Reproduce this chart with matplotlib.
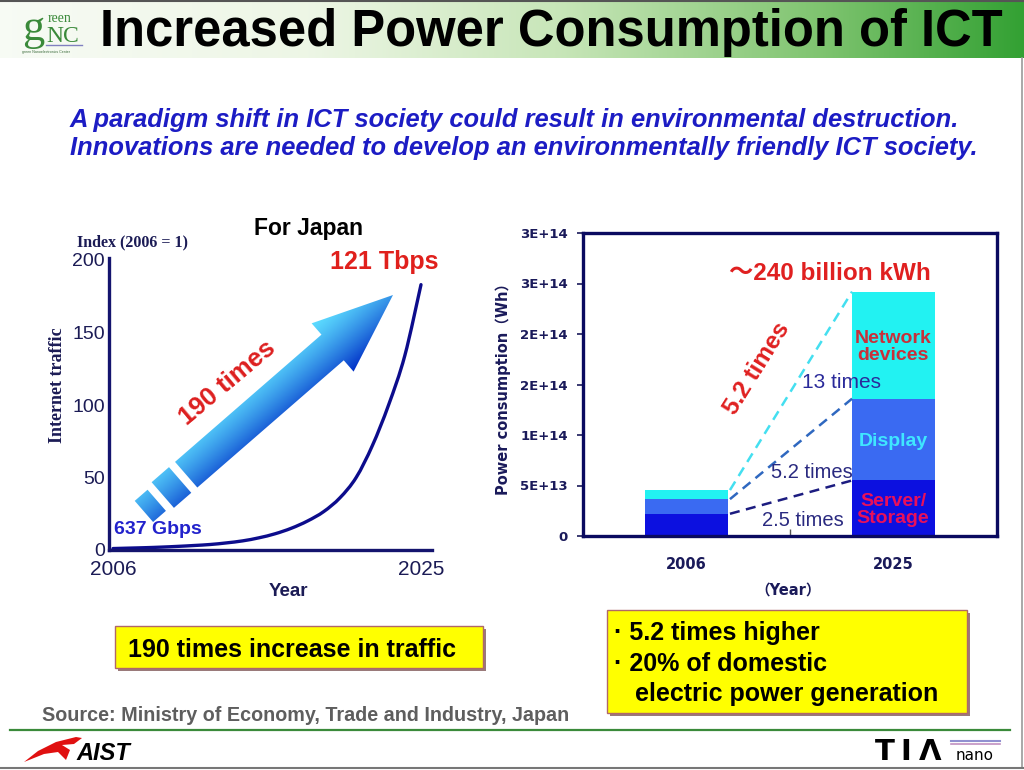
import numpy as np
import matplotlib
matplotlib.use("Agg")
import matplotlib.pyplot as plt
from matplotlib.patches import Rectangle, PathPatch, Polygon
from matplotlib.path import Path

# ---------------- data ----------------
years = [2006, 2007, 2008, 2009, 2010, 2011, 2012, 2013, 2014, 2015,
         2016, 2017, 2018, 2019, 2020, 2021, 2022, 2023, 2024, 2025]
traffic_index = [1, 1.3, 1.6, 2.0, 2.5, 3.1, 3.8, 4.9, 6.3, 8.4,
                 11.2, 15, 20, 26.5, 36, 50, 72, 100, 134, 183]
left_yticks = [0, 50, 100, 150, 200]
left_xticks = [2006, 2025]

bar_years = ["2006", "2025"]
server_storage = np.array([2.2e13, 5.5e13])
display = np.array([1.45e13, 8.1e13])
network_devices = np.array([0.9e13, 10.6e13])
right_yticks = [0, 5e13, 1e14, 1.5e14, 2e14, 2.5e14, 3e14]
right_yticklabels = ["0", "5E+13", "1E+14", "2E+14", "2E+14", "3E+14", "3E+14"]
growth_labels = ["2.5 times", "5.2 times", "13 times"]

W, H = 1024, 770
SANS = "Liberation Sans"
SERIF = "Liberation Serif"
CJK = ["DejaVu Sans", "Noto Sans CJK JP"]
NAVY = "#1b1b55"

fig = plt.figure(figsize=(W / 100, H / 100), dpi=100)
fig.patch.set_facecolor("white")

# ---------------- background ----------------
bg = fig.add_axes([0, 0, 1, 1], zorder=0)
bg.axis("off")
xs = np.linspace(0, 1, 512)
sx = [0, 0.3, 0.55, 0.8, 1.0]
sc = np.array([[0.97, 0.985, 0.96], [0.93, 0.965, 0.90], [0.78, 0.90, 0.72],
               [0.50, 0.77, 0.44], [0.20, 0.63, 0.20]])
grad = np.stack([np.interp(xs, sx, sc[:, k]) for k in range(3)], axis=-1)[None, :, :]
bg.imshow(grad, extent=(0, W, 58, 0), aspect="auto", interpolation="bilinear")
bg.set_xlim(0, W)
bg.set_ylim(H, 0)
bg.plot([0, W], [1, 1], color="#555555", lw=1.5)
bg.plot([1022, 1022], [58, 768], color="#999999", lw=1.2)
bg.plot([0, W], [768, 768], color="#777777", lw=1.5)
bg.plot([10, 1010], [730, 730], color="#3a8a3a", lw=1.6)

# ---------------- left chart ----------------
axL = fig.add_axes([109 / W, 1 - 550 / H, (432 - 109) / W, (550 - 258) / H], zorder=2)
axL.patch.set_alpha(0)
# smooth curve through the data points (Catmull-Rom as cubic Bezier segments)
pts = np.column_stack([np.asarray(years, float), np.asarray(traffic_index, float)])
verts = [tuple(pts[0])]
codes = [Path.MOVETO]
for i in range(len(pts) - 1):
    p0 = pts[i - 1] if i > 0 else pts[i]
    p1, p2 = pts[i], pts[i + 1]
    p3 = pts[i + 2] if i + 2 < len(pts) else pts[i + 1]
    verts += [tuple(p1 + (p2 - p0) / 6), tuple(p2 - (p3 - p1) / 6), tuple(p2)]
    codes += [Path.CURVE4] * 3
axL.add_patch(PathPatch(Path(verts, codes), facecolor="none", edgecolor="#0c0c8c", lw=2.4,
                        capstyle="round", joinstyle="round"))
axL.set_xlim(2006 - 4 / 16.2, 2025 + 11 / 16.2)
axL.set_ylim(0, 200 * 292 / 290)
axL.set_yticks(left_yticks)
axL.set_xticks(left_xticks)
axL.tick_params(axis="both", length=0, colors=NAVY)
axL.tick_params(axis="y", pad=3)
axL.tick_params(axis="x", pad=7)
for lab in axL.get_yticklabels():
    lab.set_fontfamily(SANS); lab.set_fontsize(14)
for lab in axL.get_xticklabels():
    lab.set_fontfamily(SANS); lab.set_fontsize(15)
for s in ["top", "right"]:
    axL.spines[s].set_visible(False)
for s in ["left", "bottom"]:
    axL.spines[s].set_color("#14146e"); axL.spines[s].set_linewidth(2.4)

# ---------------- right chart ----------------
axR = fig.add_axes([583 / W, 1 - 536 / H, (997 - 583) / W, (536 - 233) / H], zorder=2)
xpos = np.arange(len(bar_years))
bw = 0.4
c_server, c_display, c_network = "#0c10e0", "#3a6af2", "#22f2f2"
axR.bar(xpos, server_storage, bw, color=c_server, zorder=2)
axR.bar(xpos, display, bw, bottom=server_storage, color=c_display, zorder=2)
axR.bar(xpos, network_devices, bw, bottom=server_storage + display, color=c_network, zorder=2)
tops = [server_storage, server_storage + display, server_storage + display + network_devices]
line_cols = ["#1c1c80", "#2f68c0", "#44dff0"]
for top, lc in zip(tops, line_cols):
    axR.plot([xpos[0] + bw / 2 + 0.01, xpos[1] - bw / 2], [top[0], top[1]],
             ls=(0, (4, 2.6)), color=lc, lw=1.8, zorder=3)
axR.set_xlim(-0.5, 1.5)
axR.set_ylim(0, 3e14)
axR.set_yticks(right_yticks)
axR.set_yticklabels(right_yticklabels)
axR.set_xticks(xpos)
axR.set_xticklabels(bar_years)
axR.set_xticks([0.5], minor=True)
axR.tick_params(axis="x", which="major", length=0, pad=15, colors="#1a1a5a")
axR.tick_params(axis="x", which="minor", direction="in", length=5, width=1, color="#555555")
axR.tick_params(axis="y", length=4, width=1.2, color="#1a1a5a", labelcolor="#1a1a5a", pad=7)
for lab in axR.get_yticklabels():
    lab.set_fontfamily("DejaVu Sans"); lab.set_fontweight("bold"); lab.set_fontsize(9.5)
for lab in axR.get_xticklabels():
    lab.set_fontfamily("DejaVu Sans"); lab.set_fontweight("bold"); lab.set_fontsize(10.5)
for s in axR.spines.values():
    s.set_color("#0a0a60"); s.set_linewidth(2.4)

# ---------------- overlay (pixel coords) ----------------
ov = fig.add_axes([0, 0, 1, 1], zorder=5)
ov.patch.set_alpha(0)
ov.axis("off")

# gradient arrow
T = np.array([393.0, 295.0])
u = np.array([0.755, -0.656]); u /= np.linalg.norm(u)
n = np.array([-u[1], u[0]])
if n[1] < 0:
    n = -n
def P(s, t):
    p = T - s * u + t * n
    return (p[0], p[1])
head = [P(0, 0), P(80, -32), P(80, -17), P(274, -17), P(274, 17), P(80, 17), P(80, 32), P(0, 0)]
piece2 = [P(282, -17), P(305, -17), P(305, 17), P(282, 17), P(282, -17)]
piece1 = [P(313, -14), P(330, -14), P(330, 14), P(313, 14), P(313, -14)]
paths = [Path(v, closed=True) for v in (head, piece2, piece1)]
apath = Path.make_compound_path(*paths)
clip = PathPatch(apath, transform=ov.transData, facecolor="none", edgecolor="none")
ov.add_patch(clip)
x0, x1, y0, y1 = 120, 400, 285, 540
gx, gy = np.meshgrid(np.arange(x0, x1) + 0.5, np.arange(y0, y1) + 0.5)
tt = (gx - T[0]) * n[0] + (gy - T[1]) * n[1]
v = np.clip((tt + 32) / 64, 0, 1) ** 1.3
c0 = np.array([0.36, 0.86, 1.0]); c1 = np.array([0.0, 0.18, 0.78])
img = c0[None, None, :] + (c1 - c0)[None, None, :] * v[..., None]
im = ov.imshow(img, extent=(x0, x1, y1, y0), aspect="auto", interpolation="bilinear", zorder=3)
im.set_clip_path(clip)
ov.set_xlim(0, W)
ov.set_ylim(H, 0)

# header
ov.text(100, 46, "Increased Power Consumption of ICT", fontfamily=SANS, fontweight="bold",
        fontsize=36.5, color="black", va="baseline", ha="left")
ov.text(33, 40, "g", fontfamily=SERIF, fontsize=32, color="#3a8a3a", ha="center", va="baseline")
ov.text(48, 22, "reen", fontfamily=SERIF, fontsize=10, color="#3a8a3a", ha="left", va="baseline")
ov.text(46, 42, "NC", fontfamily=SERIF, fontsize=17, color="#3a8a3a", ha="left", va="baseline")
ov.plot([46, 82], [45, 45], color="#8080c0", lw=1)
ov.text(22, 52, "green Nanoelectronics Center", fontfamily=SANS, fontsize=2.6, color="#3a6a3a",
        ha="left", va="center")

# subtitle
sub_c = "#1c1cc4"
ov.text(70, 127, "A paradigm shift in ICT society could result in environmental destruction.",
        fontfamily=SANS, fontweight="bold", style="italic", fontsize=18.4, color=sub_c, va="baseline")
ov.text(70, 155, "Innovations are needed to develop an environmentally friendly ICT society.",
        fontfamily=SANS, fontweight="bold", style="italic", fontsize=18.4, color=sub_c, va="baseline")

# left chart annotations
ov.text(308, 228, "For Japan", fontfamily=SANS, fontweight="bold", fontsize=16.5, color="black",
        ha="center", va="center")
ov.text(77, 242, "Index (2006 = 1)", fontfamily=SERIF, fontweight="bold", fontsize=11.5, color=NAVY,
        ha="left", va="center")
ov.text(58, 385, "Internet traffic", fontfamily=SERIF, fontweight="bold", fontsize=13, color=NAVY,
        ha="center", va="center", rotation=90)
ov.text(384, 262, "121 Tbps", fontfamily=SANS, fontweight="bold", fontsize=18, color="#e0201c",
        ha="center", va="center")
ov.text(227, 383, "190 times", fontfamily=SANS, fontweight="bold", fontsize=18.5, color="#dd1f1f",
        ha="center", va="center", rotation=40, rotation_mode="anchor")
ov.text(158, 530, "637 Gbps", fontfamily=SANS, fontweight="bold", fontsize=14, color="#2222cc",
        ha="center", va="center")
ov.text(288, 591, "Year", fontfamily=SANS, fontweight="bold", fontsize=13.5, color=NAVY,
        ha="center", va="center")

# right chart annotations
ov.text(503, 385, "Power consumption（Wh）", fontfamily=CJK, fontweight="bold", fontsize=10.5,
        color="#1a1a5a", ha="center", va="center", rotation=90)
ov.text(788, 590, "（Year）", fontfamily=CJK, fontweight="bold", fontsize=10.5,
        color="#1a1a5a", ha="center", va="center")
ov.text(830, 273, "～240 billion kWh", fontfamily=[SANS, "Noto Sans CJK JP"], fontweight="bold",
        fontsize=17.5, color="#e02020", ha="center", va="center")
ov.text(757, 368, "5.2 times", fontfamily=SANS, fontweight="bold", fontsize=17.5, color="#e02020",
        ha="center", va="center", rotation=58, rotation_mode="anchor")
ov.text(842, 383, growth_labels[2], fontfamily=SANS, fontsize=15, color="#2a2a9a", ha="center", va="center")
ov.text(812, 472, growth_labels[1], fontfamily=SANS, fontsize=14.5, color="#2a2a80", ha="center", va="center")
ov.text(803, 521, growth_labels[0], fontfamily=SANS, fontsize=14.5, color="#2a2a80", ha="center", va="center")
ov.text(893, 347, "Network\ndevices", fontfamily=SANS, fontweight="bold", fontsize=14, color="#c8303a",
        ha="center", va="center", linespacing=1.05)
ov.text(893, 441, "Display", fontfamily=SANS, fontweight="bold", fontsize=14, color="#3fe6ff",
        ha="center", va="center")
ov.text(893, 510, "Server/\nStorage", fontfamily=SANS, fontweight="bold", fontsize=14, color="#e8105a",
        ha="center", va="center", linespacing=1.05)

# yellow boxes
def ybox(x, y, w, h):
    ov.add_patch(Rectangle((x + 3, y + 3), w, h, facecolor="#9a7a7a", edgecolor="none", zorder=4))
    ov.add_patch(Rectangle((x, y), w, h, facecolor="#ffff00", edgecolor="#b06868", lw=1, zorder=5))

ybox(115, 626, 368, 42)
ov.text(128, 657, "190 times increase in traffic", fontfamily=SANS, fontweight="bold", fontsize=18,
        color="black", va="baseline", zorder=6)
ybox(607, 610, 360, 103)
for yy, s in [(640, "· 5.2 times higher"), (671, "· 20% of domestic"), (701, "   electric power generation")]:
    ov.text(614, yy, s, fontfamily=SANS, fontweight="bold", fontsize=18, color="black",
            va="baseline", zorder=6)

ov.text(42, 721, "Source: Ministry of Economy, Trade and Industry, Japan", fontfamily=SANS,
        fontweight="bold", fontsize=14.2, color="#5e5e5e", va="baseline")

# footer logos
ov.add_patch(Polygon([(24, 762), (38, 751), (56, 742), (76, 737), (82, 738), (74, 744), (62, 745),
                      (70, 750), (66, 760), (58, 752), (44, 754)], closed=True,
                     facecolor="#e01010", edgecolor="none"))
ov.text(76, 760, "AIST", fontfamily=SANS, fontweight="bold", style="italic", fontsize=17,
        color="black", va="baseline")
for cx, ch in [(885, "T"), (906, "I"), (930, "Λ")]:
    ov.text(cx, 760, ch, fontfamily="DejaVu Sans", fontweight="bold", fontsize=21,
            color="black", va="baseline", ha="center")
ov.text(975, 760, "nano", fontfamily="DejaVu Sans", fontsize=11, color="black", va="baseline",
        ha="center")
ov.plot([951, 1000], [741, 741], color="#9090d0", lw=1.5)
ov.plot([951, 1000], [744, 744], color="#c090c0", lw=1.2)

fig.savefig("out.png", dpi=100)
